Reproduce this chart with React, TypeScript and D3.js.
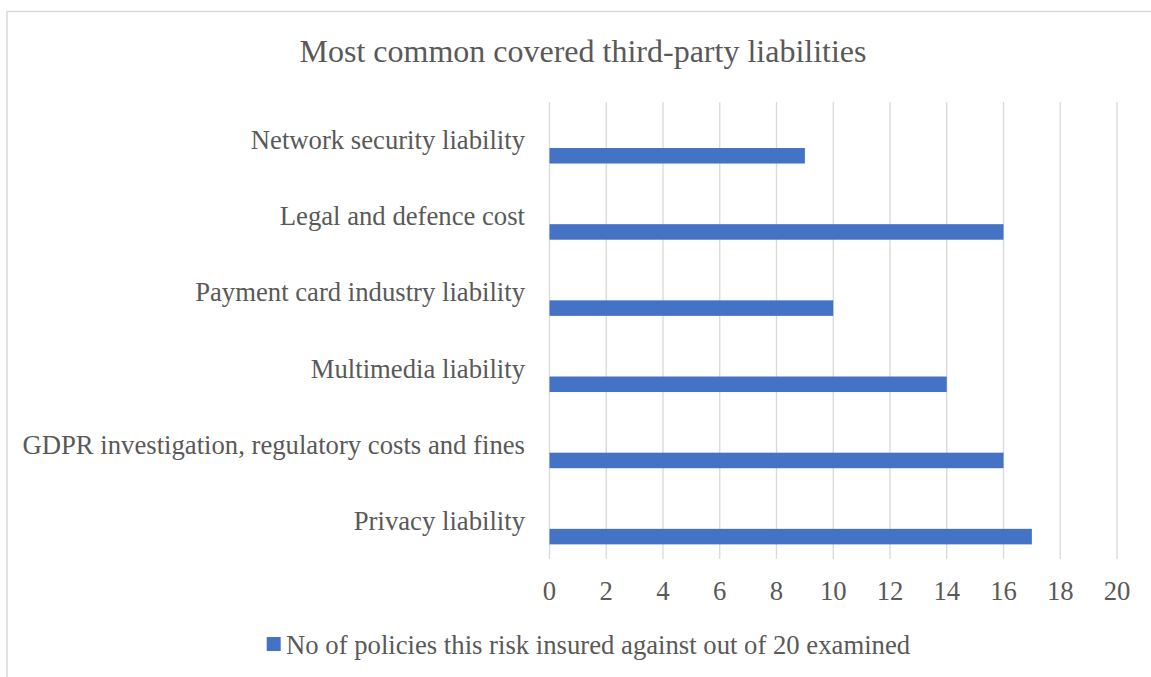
import React from "react";
import * as d3 from "d3";

const categories = [
  "Network security liability",
  "Legal and defence cost",
  "Payment card industry liability",
  "Multimedia liability",
  "GDPR investigation, regulatory costs and fines",
  "Privacy liability",
];
const values = [9, 16, 10, 14, 16, 17];
const xTicks = [0, 2, 4, 6, 8, 10, 12, 14, 16, 18, 20];
const title = "Most common covered third-party liabilities";
const seriesName = "No of policies this risk insured against out of 20 examined";

export default function App() {
  const W = 1151, H = 677;
  const left = 549.5, right = 1117, top = 102, bottom = 559;
  const x = d3.scaleLinear().domain([0, 20]).range([left, right]);
  const y = d3.scaleBand().domain(categories).range([top, bottom]);
  const bw = y.bandwidth();
  const font = "Liberation Serif";
  const textColor = "#595959";
  return (
    <svg width={W} height={H} style={{ position: "absolute", left: 0, top: 0, background: "#fff" }}>
      <rect x={7} y={11.5} width={1160} height={700} fill="#fff" stroke="#d9d9d9" strokeWidth={1.5} />
      <text x={583} y={61.5} textAnchor="middle" fontFamily={font} fontSize={32} fill={textColor}>{title}</text>
      {xTicks.map((t) => (
        <g key={t}>
          <line x1={x(t)} x2={x(t)} y1={top} y2={bottom} stroke="#d9d9d9" strokeWidth={1.3} />
          <text x={x(t)} y={600} textAnchor="middle" fontFamily={font} fontSize={26.7} fill={textColor}>{t}</text>
        </g>
      ))}
      {categories.map((c, i) => {
        const y0 = y(c)!;
        return (
          <g key={c}>
            <rect x={x(0)} y={y0 + bw * 0.604} width={x(values[i]) - x(0)} height={bw * 0.204} fill="#4472C4" />
            <text x={525} y={y0 + bw / 2 + 9} textAnchor="end" fontFamily={font} fontSize={26.7} fill={textColor}>{c}</text>
          </g>
        );
      })}
      <rect x={266.7} y={637} width={14} height={14} fill="#4472C4" />
      <text x={286} y={654} fontFamily={font} fontSize={26.7} fill={textColor}>{seriesName}</text>
    </svg>
  );
}
